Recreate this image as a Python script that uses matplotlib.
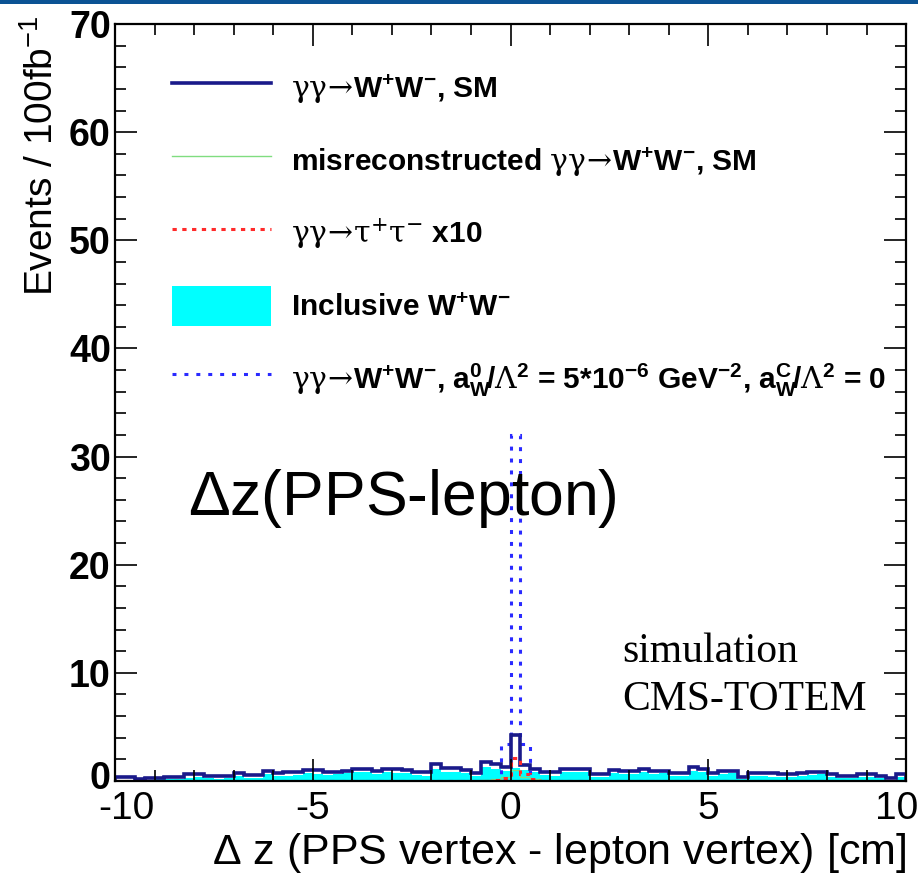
import numpy as np
import matplotlib
matplotlib.use('Agg')
import matplotlib.pyplot as plt
from matplotlib.lines import Line2D
from matplotlib.patches import Patch, Rectangle
from matplotlib.ticker import MultipleLocator
from matplotlib.transforms import ScaledTranslation

plt.rcParams['font.family'] = ['Liberation Sans', 'DejaVu Sans']
plt.rcParams['mathtext.fontset'] = 'custom'
plt.rcParams['mathtext.rm'] = 'DejaVu Serif'
plt.rcParams['mathtext.bf'] = 'Liberation Sans:bold'
plt.rcParams['mathtext.sf'] = 'Liberation Sans'
plt.rcParams['mathtext.it'] = 'Liberation Sans:italic'

# histogram binning, delta z in cm
edges = np.linspace(-10, 10, 81)

# gamma gamma -> WW, SM (drawn on top of the inclusive WW)
ww_sm = [0.35, 0.35, 0.2, 0.3, 0.3, 0.4, 0.4, 0.6, 0.6, 0.5,
         0.45, 0.45, 0.75, 0.55, 0.55, 0.9, 0.7, 0.8, 0.8, 1.0,
         1.0, 0.85, 0.85, 0.95, 1.15, 1.15, 0.9, 1.1, 1.1, 1.0,
         0.8, 0.8, 1.55, 1.2, 1.2, 1.0, 0.7, 1.75, 1.6, 1.3,
         4.25, 1.45, 1.1, 0.8, 0.8, 1.15, 1.15, 1.15, 0.65, 0.65,
         1.0, 0.9, 0.9, 1.1, 0.95, 0.95, 0.75, 0.75, 1.3, 1.15,
         0.75, 0.95, 0.95, 0.4, 0.7, 0.7, 0.7, 0.65, 0.65, 0.75,
         0.85, 0.85, 0.65, 0.45, 0.45, 0.65, 0.65, 0.45, 0.25, 0.65]

# inclusive WW background
ww_incl = [0.1, 0.1, 0.05, 0.1, 0.15, 0.15, 0.2, 0.3, 0.35, 0.25,
           0.2, 0.25, 0.45, 0.3, 0.3, 0.6, 0.45, 0.5, 0.55, 0.7,
           0.65, 0.55, 0.6, 0.7, 0.8, 0.85, 0.6, 0.8, 0.75, 0.7,
           0.55, 0.5, 1.1, 0.85, 0.8, 0.7, 0.45, 1.25, 1.1, 0.95,
           1.2, 1.0, 0.8, 0.55, 0.5, 0.85, 0.8, 0.85, 0.4, 0.4,
           0.7, 0.6, 0.6, 0.8, 0.65, 0.7, 0.5, 0.45, 0.95, 0.8,
           0.5, 0.65, 0.7, 0.2, 0.45, 0.45, 0.4, 0.4, 0.4, 0.5,
           0.55, 0.6, 0.4, 0.25, 0.25, 0.4, 0.4, 0.25, 0.1, 0.4]

# misreconstructed gamma gamma -> WW
ww_misreco = [0.0] * 37 + [0.1, 0.2, 0.35, 1.0, 0.35, 0.15] + [0.0] * 37

# gamma gamma -> tau tau, scaled x10
tautau_x10 = [0.02] * 38 + [0.1, 0.3, 2.1, 0.6, 0.15] + [0.02] * 37

# anomalous coupling signal, a0W/L^2 = 5e-6
ww_anom = [0.0] * 39 + [3.4, 32.0, 3.4] + [0.0] * 38

y_ticks = [0, 10, 20, 30, 40, 50, 60, 70]
y_tick_labels = ['0', '10', '20', '30', '40', '50', '60', '70']
x_ticks = [-10, -5, 0, 5, 10]
x_tick_labels = ['-10', '-5', '0', '5', '10']

navy = '#1a1a8a'
cyan = '#00ffff'
green = '#80dd80'
red = '#ff2a2a'
blue = '#2a2aff'

fig = plt.figure(figsize=(9.18, 8.77), dpi=100)
ax = fig.add_axes([0.1253, 0.1095, 0.8617, 0.8631])

ax.stairs(ww_incl, edges, fill=True, color=cyan, lw=0)
ax.stairs(ww_misreco, edges, color=green, lw=1)
ax.stairs(ww_anom, edges, color=blue, lw=2.2, linestyle=(0, (1.3, 2.6)))
ax.stairs(ww_sm, edges, color=navy, lw=2.6)
ax.stairs(tautau_x10, edges, color=red, lw=2.2, linestyle=(0, (1.4, 1.8)))

ax.set_xlim(-10, 10)
ax.set_ylim(0, 70)
ax.set_xticks(x_ticks, x_tick_labels)
ax.set_yticks(y_ticks, y_tick_labels, fontweight='bold')
ax.xaxis.set_minor_locator(MultipleLocator(1))
ax.yaxis.set_minor_locator(MultipleLocator(2))
ax.tick_params(which='both', direction='in', top=True, right=True, width=1.2)
ax.tick_params(which='major', length=16)
ax.tick_params(which='minor', length=8)
ax.tick_params(axis='x', labelsize=28, pad=7)
ax.tick_params(axis='y', labelsize=27, pad=3)
for sp in ax.spines.values():
    sp.set_linewidth(1.6)

# end labels sit inside the frame, like ROOT does
xlabs = ax.get_xticklabels()
xlabs[0].set_transform(xlabs[0].get_transform() + ScaledTranslation(8 / 72, 0, fig.dpi_scale_trans))
xlabs[-1].set_transform(xlabs[-1].get_transform() + ScaledTranslation(-7 / 72, 0, fig.dpi_scale_trans))
ylabs = ax.get_yticklabels()
ylabs[0].set_transform(ylabs[0].get_transform() + ScaledTranslation(0, 4 / 72, fig.dpi_scale_trans))

ax.set_xlabel(r'$\mathsf{\Delta}$ z (PPS vertex - lepton vertex) [cm]', fontsize=31, loc='right')
ax.xaxis.set_label_coords(1.0, -0.066)
ax.set_ylabel(r'Events / 100fb$^{\mathsf{-1}}$', fontsize=28, loc='top')
ax.yaxis.set_label_coords(-0.068, 1.012)

handles = [
    Line2D([], [], color=navy, lw=2.6),
    Line2D([], [], color=green, lw=1),
    Line2D([], [], color=red, lw=2.2, linestyle=(0, (1.4, 1.8))),
    Patch(facecolor=cyan, edgecolor='none'),
    Line2D([], [], color=blue, lw=2.2, linestyle=(0, (1.3, 2.6))),
]
labels = [
    r'$\mathrm{\gamma\gamma\!\rightarrow\!}\mathbf{W^{+}W^{-}}$, SM',
    r'misreconstructed $\mathrm{\gamma\gamma\!\rightarrow\!}\mathbf{W^{+}W^{-}}$, SM',
    r'$\mathrm{\gamma\gamma\!\rightarrow\!\tau^{+}\tau^{-}}$ x10',
    r'Inclusive $\mathbf{W^{+}W^{-}}$',
    r'$\mathrm{\gamma\gamma\!\rightarrow\!}\mathbf{W^{+}W^{-}}$, '
    r'$\mathbf{a_{W}^{0}\!/}\mathrm{\Lambda}^{\mathbf{2}}$ = 5*10$^{\mathbf{-6}}$ GeV$^{\mathbf{-2}}$, '
    r'$\mathbf{a_{W}^{C}\!/}\mathrm{\Lambda}^{\mathbf{2}}$ = 0',
]
ax.legend(handles, labels, loc='upper left', bbox_to_anchor=(0.072, 0.941),
          frameon=False, borderpad=0, borderaxespad=0,
          handlelength=3.3, handleheight=1.67, handletextpad=0.7,
          labelspacing=1.1, prop={'size': 21.5, 'weight': 'bold'})

ax.text(0.092, 0.351, r'$\mathsf{\Delta}$z(PPS-lepton)', transform=ax.transAxes,
        fontsize=45, va='baseline', ha='left')
ax.text(0.641, 0.157, 'simulation', transform=ax.transAxes,
        fontsize=30, family='Liberation Serif', va='baseline')
ax.text(0.641, 0.094, 'CMS-TOTEM', transform=ax.transAxes,
        fontsize=30, family='Liberation Serif', va='baseline')

# slide header stripe
fig.add_artist(Rectangle((0, 1 - 4 / 877), 1, 4 / 877, transform=fig.transFigure,
                         color='#0b5394', lw=0))

fig.savefig('out.png', dpi=100)
